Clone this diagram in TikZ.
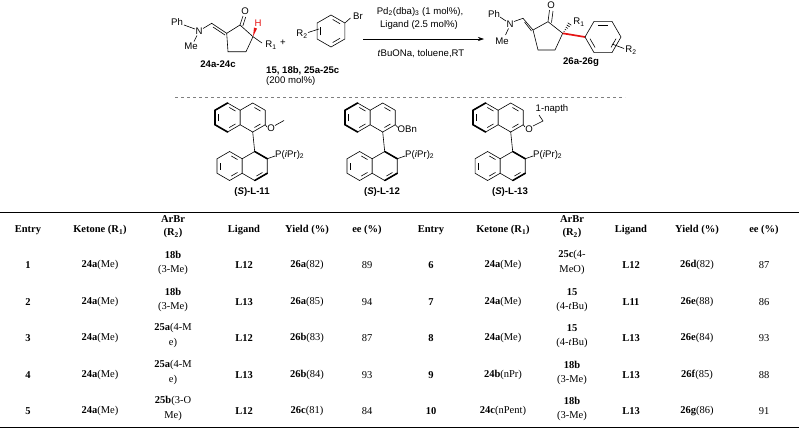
\documentclass[tikz,border=0pt]{standalone}
\usepackage{fontspec}
\setmainfont{Liberation Serif}
\newfontfamily\arialf{Liberation Sans}
\usetikzlibrary{calc,arrows.meta}
\definecolor{hred}{RGB}{230,20,20}
\newcommand\hs{14.5}
\newcommand\hexring[2]{\draw[bond] (#1,#2) +(30:\hs) -- +(90:\hs) -- +(150:\hs) -- +(210:\hs) -- +(270:\hs) -- +(330:\hs) -- cycle;}
\newcommand\inb[4]{\draw[bond,shorten <=2pt,shorten >=2pt] ($(#1,#2)+(#3:11)$) -- ($(#1,#2)+(#4:11)$);}
\newcommand\bb[4]{\draw[line width=1.6pt,line cap=round] ($(#1,#2)+(#3:\hs)$) -- ($(#1,#2)+(#4:\hs)$);}
\newcommand\binaph{%
  \hexring{357.6}{117.5}\hexring{382.7}{117.5}
  \hexring{359.6}{166}\hexring{384.7}{166}
  \inb{357.6}{117.5}{150}{210}\inb{357.6}{117.5}{270}{330}\inb{357.6}{117.5}{30}{90}
  \inb{382.7}{117.5}{270}{330}\inb{382.7}{117.5}{30}{90}
  \inb{359.6}{166}{150}{210}\inb{359.6}{166}{270}{330}\inb{359.6}{166}{30}{90}
  \inb{384.7}{166}{30}{90}
  \bb{357.6}{117.5}{150}{210}\bb{357.6}{117.5}{210}{270}\bb{357.6}{117.5}{90}{150}
  \bb{384.7}{166}{270}{330}\bb{384.7}{166}{30}{90}
  \draw[bond] ($(382.7,117.5)+(90:\hs)$) -- ($(384.7,166)+(270:\hs)$);
  \draw[bond] ($(384.7,166)+(330:\hs)$) -- (405,156);
}
% #1 y, #2 side (L/R), #3 entry ...
\newcommand\trow[9]{%
  \node[td] (e#3) at (\cE,#1) {\textbf{#3}};
  \node[td] (k#3) at (\cK,#1) {#4};
  \node[td] (a#3) at (\cA,#1-10) {#5};
  \node[td] (b#3) at (\cA,#1+4.5) {#6};
  \node[td] (l#3) at (\cL,#1) {\textbf{#7}};
  \node[td] (y#3) at (\cY,#1) {#8};
  \node[td] (ee#3) at (\cee,#1) {#9};
}
\newcommand\colsL{\def\cE{28}\def\cK{100}\def\cA{173}\def\cL{244}\def\cY{307}\def\cee{367}}
\newcommand\colsR{\def\cE{431}\def\cK{503}\def\cA{572}\def\cL{631}\def\cY{697}\def\cee{764}}
\begin{document}
\begin{tikzpicture}[x=1pt,y=-1pt,
  bond/.style={line width=0.6pt},
  ch/.style={inner sep=0pt,font=\arialf\fontsize{9.6}{11}\selectfont},
  chb/.style={inner sep=0pt,font=\arialf\bfseries\fontsize{9.6}{11}\selectfont},
  td/.style={inner sep=0pt,font=\fontsize{10.5}{12}\selectfont},
  th/.style={inner sep=0pt,font=\bfseries\fontsize{10.5}{12}\selectfont}]
\useasboundingbox (0,0) rectangle (799,429);
\fill[white] (0,0) rectangle (799,429);
% ---------- reactant 1
\node[ch] (ph1) at (177,22) {Ph};
\node[ch] (n1) at (199,31) {N};
\node[ch] (me1) at (191,46) {Me};
\draw[bond] (184,25) -- (195,29);
\draw[bond] (197,35.5) -- (194,41.5);
\draw[bond] (203,28.5) -- (211.7,23.3) -- (226.7,33.3);
\draw[bond] (213,27) -- (225,35);
\draw[bond] (226.7,33.3) -- (240,25) -- (253,36.7) -- (246,51.7) -- (228,51.7) -- cycle;
\node[ch] (o1) at (245,11) {O};
\draw[bond] (240,25) -- (243,16);
\draw[bond] (242.8,26) -- (245.7,17);
\fill[hred] (253,36.7) -- (254,27.5) -- (257,28.5) -- cycle;
\node[ch,text=hred] (h1) at (258,23) {H};
\draw[bond] (253,36.7) -- (262,43);
\node[ch] (r1a) at (271,45) {R\textsubscript{1}};
\node[chb] (l24) at (218,64) {24a-24c};
\node[ch] (plus) at (283,43) {+};
% ---------- aryl bromide
\begin{scope}[shift={(331,31)}]
 \draw[bond] (30:16) -- (90:16) -- (150:16) -- (210:16) -- (270:16) -- (330:16) -- cycle;
 \draw[bond,shorten <=2pt,shorten >=2pt] (30:12.5) -- (90:12.5);
 \draw[bond,shorten <=2pt,shorten >=2pt] (150:12.5) -- (210:12.5);
 \draw[bond,shorten <=2pt,shorten >=2pt] (270:12.5) -- (330:12.5);
 \draw[bond] (330:16) -- (19.5,-13);
\end{scope}
\node[ch] (br) at (358,16) {Br};
\node[ch] (r2a) at (302,34) {R\textsubscript{2}};
\draw[bond] (308,32.5) -- (319,29);
\node[chb,anchor=west] (l15) at (266,71) {15, 18b, 25a-25c};
\node[ch,anchor=west] (l200) at (266,81.5) {(200 mol\%)};
% ---------- arrow
\coordinate (ar1) at (363,39);
\coordinate (ar2) at (484,39);
\draw[bond,-{Stealth[length=6pt,width=4pt]}] (ar1) -- (ar2);
\node[ch] (cat) at (420,12) {Pd\textsubscript{2}(dba)\textsubscript{3} (1 mol\%),};
\node[ch] (lig) at (419,25.5) {Ligand (2.5 mol\%)};
\node[ch] (base) at (421,54) {\textit{t}BuONa, toluene,RT};
% ---------- product
\node[ch] (ph2) at (494,14) {Ph};
\node[ch] (n2) at (510,24) {N};
\node[ch] (me2) at (502,41) {Me};
\draw[bond] (500,17) -- (506,21);
\draw[bond] (508.5,28.5) -- (505.5,35);
\draw[bond] (514,21.5) -- (523,18.3) -- (533,30);
\draw[bond] (524.5,22) -- (531.5,31);
\draw[bond] (533,30) -- (548,21.7) -- (562.7,33.3) -- (555,50) -- (538,50) -- cycle;
\node[ch] (o2) at (551,5) {O};
\draw[bond] (548,21.7) -- (549.5,10);
\draw[bond] (551.5,22.5) -- (553,11);
\foreach \t in {0.2,0.4,0.6,0.8,1.0}{
  \draw[bond] ($(562.7,33.3)!\t!(569.5,24)+(-1.8*\t,-1.2*\t)$) -- ($(562.7,33.3)!\t!(569.5,24)+(1.8*\t,1.2*\t)$);}
\node[ch] (r1b) at (579,22) {R\textsubscript{1}};
\draw[hred,line width=1.7pt] (562.7,33.3) -- (585,37);
\begin{scope}[shift={(603,37)}]
 \draw[bond] (0:18) -- (60:18) -- (120:18) -- (180:18) -- (240:18) -- (300:18) -- cycle;
 \draw[bond,shorten <=2pt,shorten >=2pt] (0:14) -- (60:14);
 \draw[bond,shorten <=2pt,shorten >=2pt] (120:14) -- (180:14);
 \draw[bond,shorten <=2pt,shorten >=2pt] (240:14) -- (300:14);
\end{scope}
\draw[bond] (612,44) -- (624,48.5);
\node[ch] (r2b) at (631,50) {R\textsubscript{2}};
\node[chb] (l26) at (581,62) {26a-26g};
% ---------- dashed separator
\draw[gray,dashed,line width=0.6pt] (175,97) -- (625,97);
% ---------- ligands
\begin{scope}[xshift=-130pt]
 \binaph
 \draw[bond] ($(382.7,117.5)+(30:\hs)$) -- (397,127);
 \node[ch] (o11) at (401,128) {O};
 \draw[bond] (405,125.5) -- (414,120.5);
 \node[ch,anchor=west] (p11) at (405,155) {P(\textit{i}Pr)\textsubscript{2}};
 \node[chb] (n11) at (382,192) {(\textit{S})-L-11};
\end{scope}
\binaph
\draw[bond] ($(382.7,117.5)+(30:\hs)$) -- (398,127.5);
\node[ch,anchor=west] (o12) at (397.5,129) {OBn};
\node[ch,anchor=west] (p12) at (405,155) {P(\textit{i}Pr)\textsubscript{2}};
\node[chb] (n12) at (382,192) {(\textit{S})-L-12};
\begin{scope}[xshift=128pt]
 \binaph
 \draw[bond] ($(382.7,117.5)+(30:\hs)$) -- (397,127);
 \node[ch] (o13) at (401,129) {O};
 \draw[bond] (405,126) -- (415,121) -- (411,115);
 \node[ch] (np13) at (424,109) {1-napth};
 \node[ch,anchor=west] (p13) at (405,155) {P(\textit{i}Pr)\textsubscript{2}};
 \node[chb] (n13) at (382,192) {(\textit{S})-L-13};
\end{scope}
% ---------- table
\draw[line width=1pt] (0,212) -- (799,212);
\draw[line width=1pt] (0,427) -- (799,427);
\colsL
\node[th] (hEL) at (\cE,230) {Entry};
\node[th] (hKL) at (\cK,230) {Ketone (R\textsubscript{1})};
\node[th] (hAL) at (\cA,219) {ArBr};
\node[th] (hBL) at (\cA,233) {(R\textsubscript{2})};
\node[th] (hLL) at (\cL,230) {Ligand};
\node[th] (hYL) at (\cY,230) {Yield (\%)};
\node[th] (heeL) at (\cee,230) {ee (\%)};
\trow{265}{L}{1}{\textbf{24a}(Me)}{\textbf{18b}}{(3-Me)}{L12}{\textbf{26a}(82)}{89}
\trow{302}{L}{2}{\textbf{24a}(Me)}{\textbf{18b}}{(3-Me)}{L13}{\textbf{26a}(85)}{94}
\trow{338}{L}{3}{\textbf{24a}(Me)}{\textbf{25a}(4-M}{e)}{L12}{\textbf{26b}(83)}{87}
\trow{375}{L}{4}{\textbf{24a}(Me)}{\textbf{25a}(4-M}{e)}{L13}{\textbf{26b}(84)}{93}
\trow{411}{L}{5}{\textbf{24a}(Me)}{\textbf{25b}(3-O}{Me)}{L12}{\textbf{26c}(81)}{84}
\colsR
\node[th] (hER) at (\cE,230) {Entry};
\node[th] (hKR) at (\cK,230) {Ketone (R\textsubscript{1})};
\node[th] (hAR) at (\cA,219) {ArBr};
\node[th] (hBR) at (\cA,233) {(R\textsubscript{2})};
\node[th] (hLR) at (\cL,230) {Ligand};
\node[th] (hYR) at (\cY,230) {Yield (\%)};
\node[th] (heeR) at (\cee,230) {ee (\%)};
\trow{265}{R}{6}{\textbf{24a}(Me)}{\textbf{25c}(4-}{MeO)}{L12}{\textbf{26d}(82)}{87}
\trow{302}{R}{7}{\textbf{24a}(Me)}{\textbf{15}}{(4-\textit{t}Bu)}{L11}{\textbf{26e}(88)}{86}
\trow{338}{R}{8}{\textbf{24a}(Me)}{\textbf{15}}{(4-\textit{t}Bu)}{L13}{\textbf{26e}(84)}{93}
\trow{375}{R}{9}{\textbf{24b}(nPr)}{\textbf{18b}}{(3-Me)}{L13}{\textbf{26f}(85)}{88}
\trow{411}{R}{10}{\textbf{24c}(nPent)}{\textbf{18b}}{(3-Me)}{L13}{\textbf{26g}(86)}{91}
\end{tikzpicture}
\end{document}
